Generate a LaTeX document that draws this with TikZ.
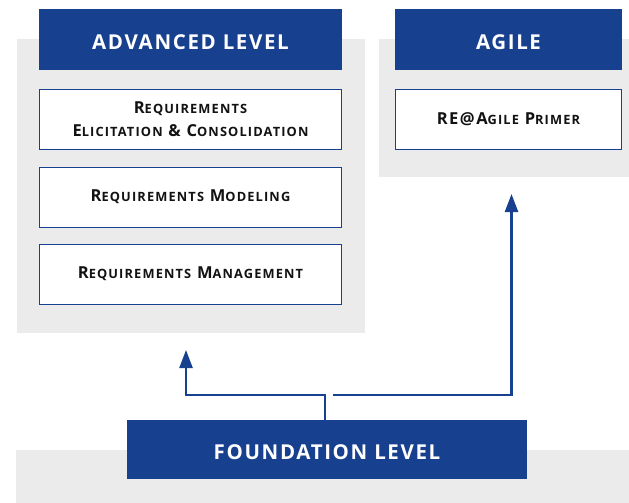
\documentclass[tikz,border=0pt]{standalone}
\usepackage{fontspec}
\setmainfont{Open Sans}
\newfontfamily\hdfont[LetterSpace=8]{Open Sans}
\newfontfamily\bxfont[LetterSpace=9]{Open Sans}
\usetikzlibrary{arrows.meta}
\definecolor{hdblue}{RGB}{23,64,143}
\definecolor{panelgray}{RGB}{235,235,235}
\newcommand\Sc[2]{{\fontsize{16.5}{23.5}\selectfont #1}{\fontsize{12.8}{23.5}\selectfont #2}}
\begin{document}
\begin{tikzpicture}[x=1pt,y=-1pt,
  panel/.style={fill=panelgray, draw=none, inner sep=0pt},
  hdr/.style={fill=hdblue, text=white, draw=none, minimum height=61pt, inner sep=0pt,
    text height=20pt, text depth=0pt,
    font=\hdfont\bfseries\fontsize{20.5}{22}\selectfont},
  course/.style={draw=hdblue, line width=0.8pt, fill=white, minimum height=60pt,
    inner sep=0pt, align=center, text=black!93, font=\bxfont\bfseries\fontsize{16.5}{23.5}\selectfont},
  conn/.style={draw=hdblue, line width=2.4pt},
  tip/.style={-{Triangle[length=18pt,width=13pt]}}]
\useasboundingbox (0,0) rectangle (629,503);
% background panels
\node[panel, minimum width=348pt, minimum height=294pt] (pl) at (191,186) {};
\node[panel, minimum width=250pt, minimum height=138pt] (pr) at (504,108) {};
\node[panel, minimum width=613pt, minimum height=53pt] (pb) at (322.5,476.5) {};
% headers
\node[hdr, minimum width=303pt] (adv) at (190.5,39.5) {ADVANCED LEVEL};
\node[hdr, minimum width=227pt] (agile) at (508.5,39.5) {AGILE};
% courses
\node[course, minimum width=302pt] (elic) at (190.5,119) {\Sc{R}{EQUIREMENTS}\\\Sc{E}{LICITATION} \Sc{\&}{} \Sc{C}{ONSOLIDATION}};
\node[course, minimum width=302pt] (model) at (190.5,197) {\Sc{R}{EQUIREMENTS} \Sc{M}{ODELING}};
\node[course, minimum width=302pt] (mgmt) at (190.5,274) {\Sc{R}{EQUIREMENTS} \Sc{M}{ANAGEMENT}};
\node[course, minimum width=226pt] (primer) at (508.5,119) {\Sc{RE@A}{GILE} \Sc{P}{RIMER}};
% foundation
\node[hdr, minimum width=400pt, minimum height=59pt] (found) at (327,449.5) {FOUNDATION LEVEL};
% connectors
\coordinate (jn) at (325,395);
\coordinate (tipL) at (186,350);
\coordinate (tipR) at (511.5,194);
\draw[conn, tip] (found.north -| jn) -- (jn) -| (tipL);
\draw[conn, tip] ([xshift=8pt]jn) -| (tipR);
\end{tikzpicture}
\end{document}
